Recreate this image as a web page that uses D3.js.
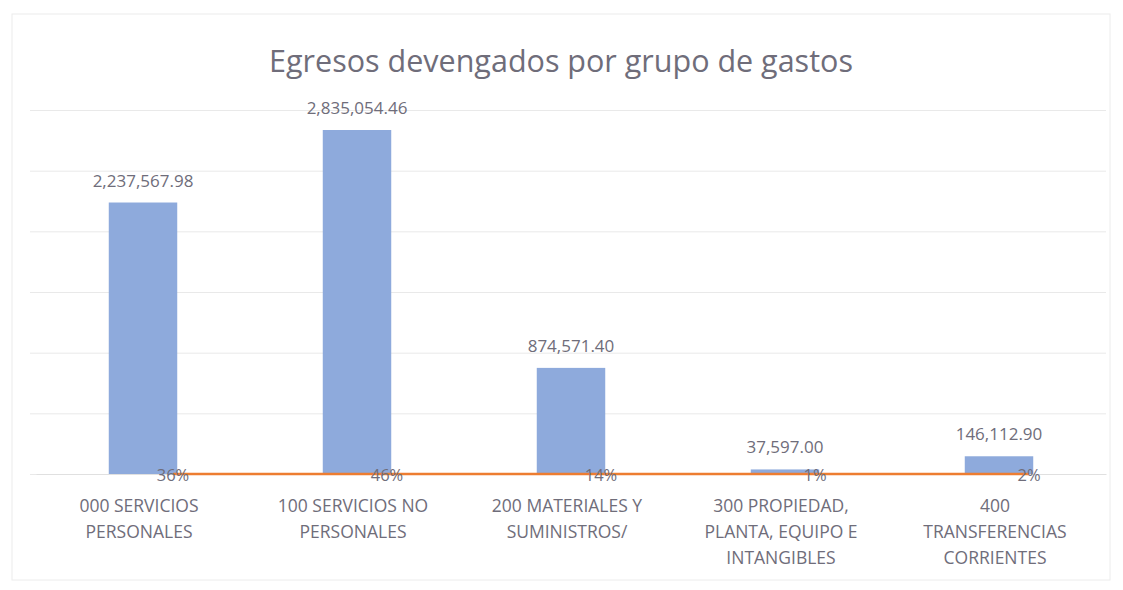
<!DOCTYPE html>
<html lang="es">

<head>
    <meta charset="UTF-8">
    <title>Egresos devengados por grupo de gastos</title>
    <script src="https://d3js.org/d3.v7.min.js"></script>
    <style>
        body {
            margin: 0;
            background: #fff;
        }

        svg {
            width: 1123px;
            height: 590px;
        }

        svg text {
            font-family: "Open Sans", sans-serif;
        }
    </style>
</head>

<body>
    <svg id="chart"></svg>

    <script>
        // data
        const categories = [
            "000 SERVICIOS PERSONALES",
            "100 SERVICIOS NO PERSONALES",
            "200 MATERIALES Y SUMINISTROS/",
            "300 PROPIEDAD, PLANTA, EQUIPO E INTANGIBLES",
            "400 TRANSFERENCIAS CORRIENTES"
        ];
        // wrapped the way the axis shows them
        const categoryLines = [
            ["000 SERVICIOS", "PERSONALES"],
            ["100 SERVICIOS NO", "PERSONALES"],
            ["200 MATERIALES Y", "SUMINISTROS/"],
            ["300 PROPIEDAD,", "PLANTA, EQUIPO  E", "INTANGIBLES"],
            ["400", "TRANSFERENCIAS", "CORRIENTES"]
        ];
        const amounts = [2237567.98, 2835054.46, 874571.40, 37597.00, 146112.90];
        const percents = [0.36, 0.46, 0.14, 0.01, 0.02];
        const gridTicks = [0, 500000, 1000000, 1500000, 2000000, 2500000, 3000000];

        const textColor = "#6f6d7a";
        const svg = d3.select("#chart");

        // faint outer frame
        svg.append("rect")
            .attr("x", 12).attr("y", 14)
            .attr("width", 1098).attr("height", 566)
            .attr("fill", "none")
            .attr("stroke", "#ececec");

        svg.append("text")
            .attr("x", 561).attr("y", 72)
            .attr("text-anchor", "middle")
            .attr("font-size", 30.5)
            .attr("fill", textColor)
            .text("Egresos devengados por grupo de gastos");

        var xScale = d3.scaleBand()
            .domain(categories)
            .range([36, 1106])
            .paddingInner(0.68)
            .paddingOuter(0.34);

        var yScale = d3.scaleLinear()
            .domain([0, 3000000])
            .range([474, 110]);

        // gridlines
        svg.append("g")
            .attr("transform", "translate(30,0)")
            .call(d3.axisLeft(yScale).tickValues(gridTicks).tickSize(-1076).tickFormat(""))
            .call(g => g.select(".domain").remove())
            .call(g => g.selectAll("line").attr("stroke", "#e9e9e9"));

        // category axis
        const xAxis = svg.append("g")
            .attr("transform", "translate(0,474)")
            .call(d3.axisBottom(xScale).tickSize(0).tickFormat(""))
            .call(g => g.select(".domain").attr("stroke", "#e0e0e0"));

        xAxis.selectAll(".tick text").remove();
        xAxis.selectAll(".tick")
            .append("text")
            .attr("fill", textColor)
            .attr("font-size", 17.5)
            .attr("text-anchor", "middle")
            .each(function (d, i) {
                d3.select(this).selectAll("tspan")
                    .data(categoryLines[i])
                    .join("tspan")
                    .attr("x", -4)
                    .attr("y", (t, j) => 38 + j * 26)
                    .text(t => t);
            });

        // bars
        svg.append("g")
            .selectAll("rect")
            .data(amounts)
            .join("rect")
            .attr("x", (d, i) => xScale(categories[i]))
            .attr("y", d => yScale(d))
            .attr("width", xScale.bandwidth())
            .attr("height", d => yScale(0) - yScale(d))
            .style("fill", "#8eaadc");

        // value labels
        const fmt = d3.format(",.2f");
        svg.append("g")
            .selectAll("text")
            .data(amounts)
            .join("text")
            .attr("x", (d, i) => xScale(categories[i]) + xScale.bandwidth() / 2)
            .attr("y", d => yScale(d) - 16)
            .attr("text-anchor", "middle")
            .attr("font-size", 17)
            .attr("fill", textColor)
            .text(d => fmt(d));

        // percentage series drawn on the same axis, so it lies on the baseline
        const lineX = (d, i) => xScale(categories[i]) + xScale.bandwidth() / 2 + 30;
        svg.append("path")
            .datum(percents)
            .attr("fill", "none")
            .attr("stroke", "#ed7d31")
            .attr("stroke-width", 2.5)
            .attr("d", d3.line().x(lineX).y(d => yScale(d)));

        const pct = d3.format(".0%");
        svg.append("g")
            .selectAll("text")
            .data(percents)
            .join("text")
            .attr("x", lineX)
            .attr("y", d => yScale(d) + 7)
            .attr("text-anchor", "middle")
            .attr("font-size", 16.5)
            .attr("fill", textColor)
            .text(d => pct(d));
    </script>
</body>

</html>
